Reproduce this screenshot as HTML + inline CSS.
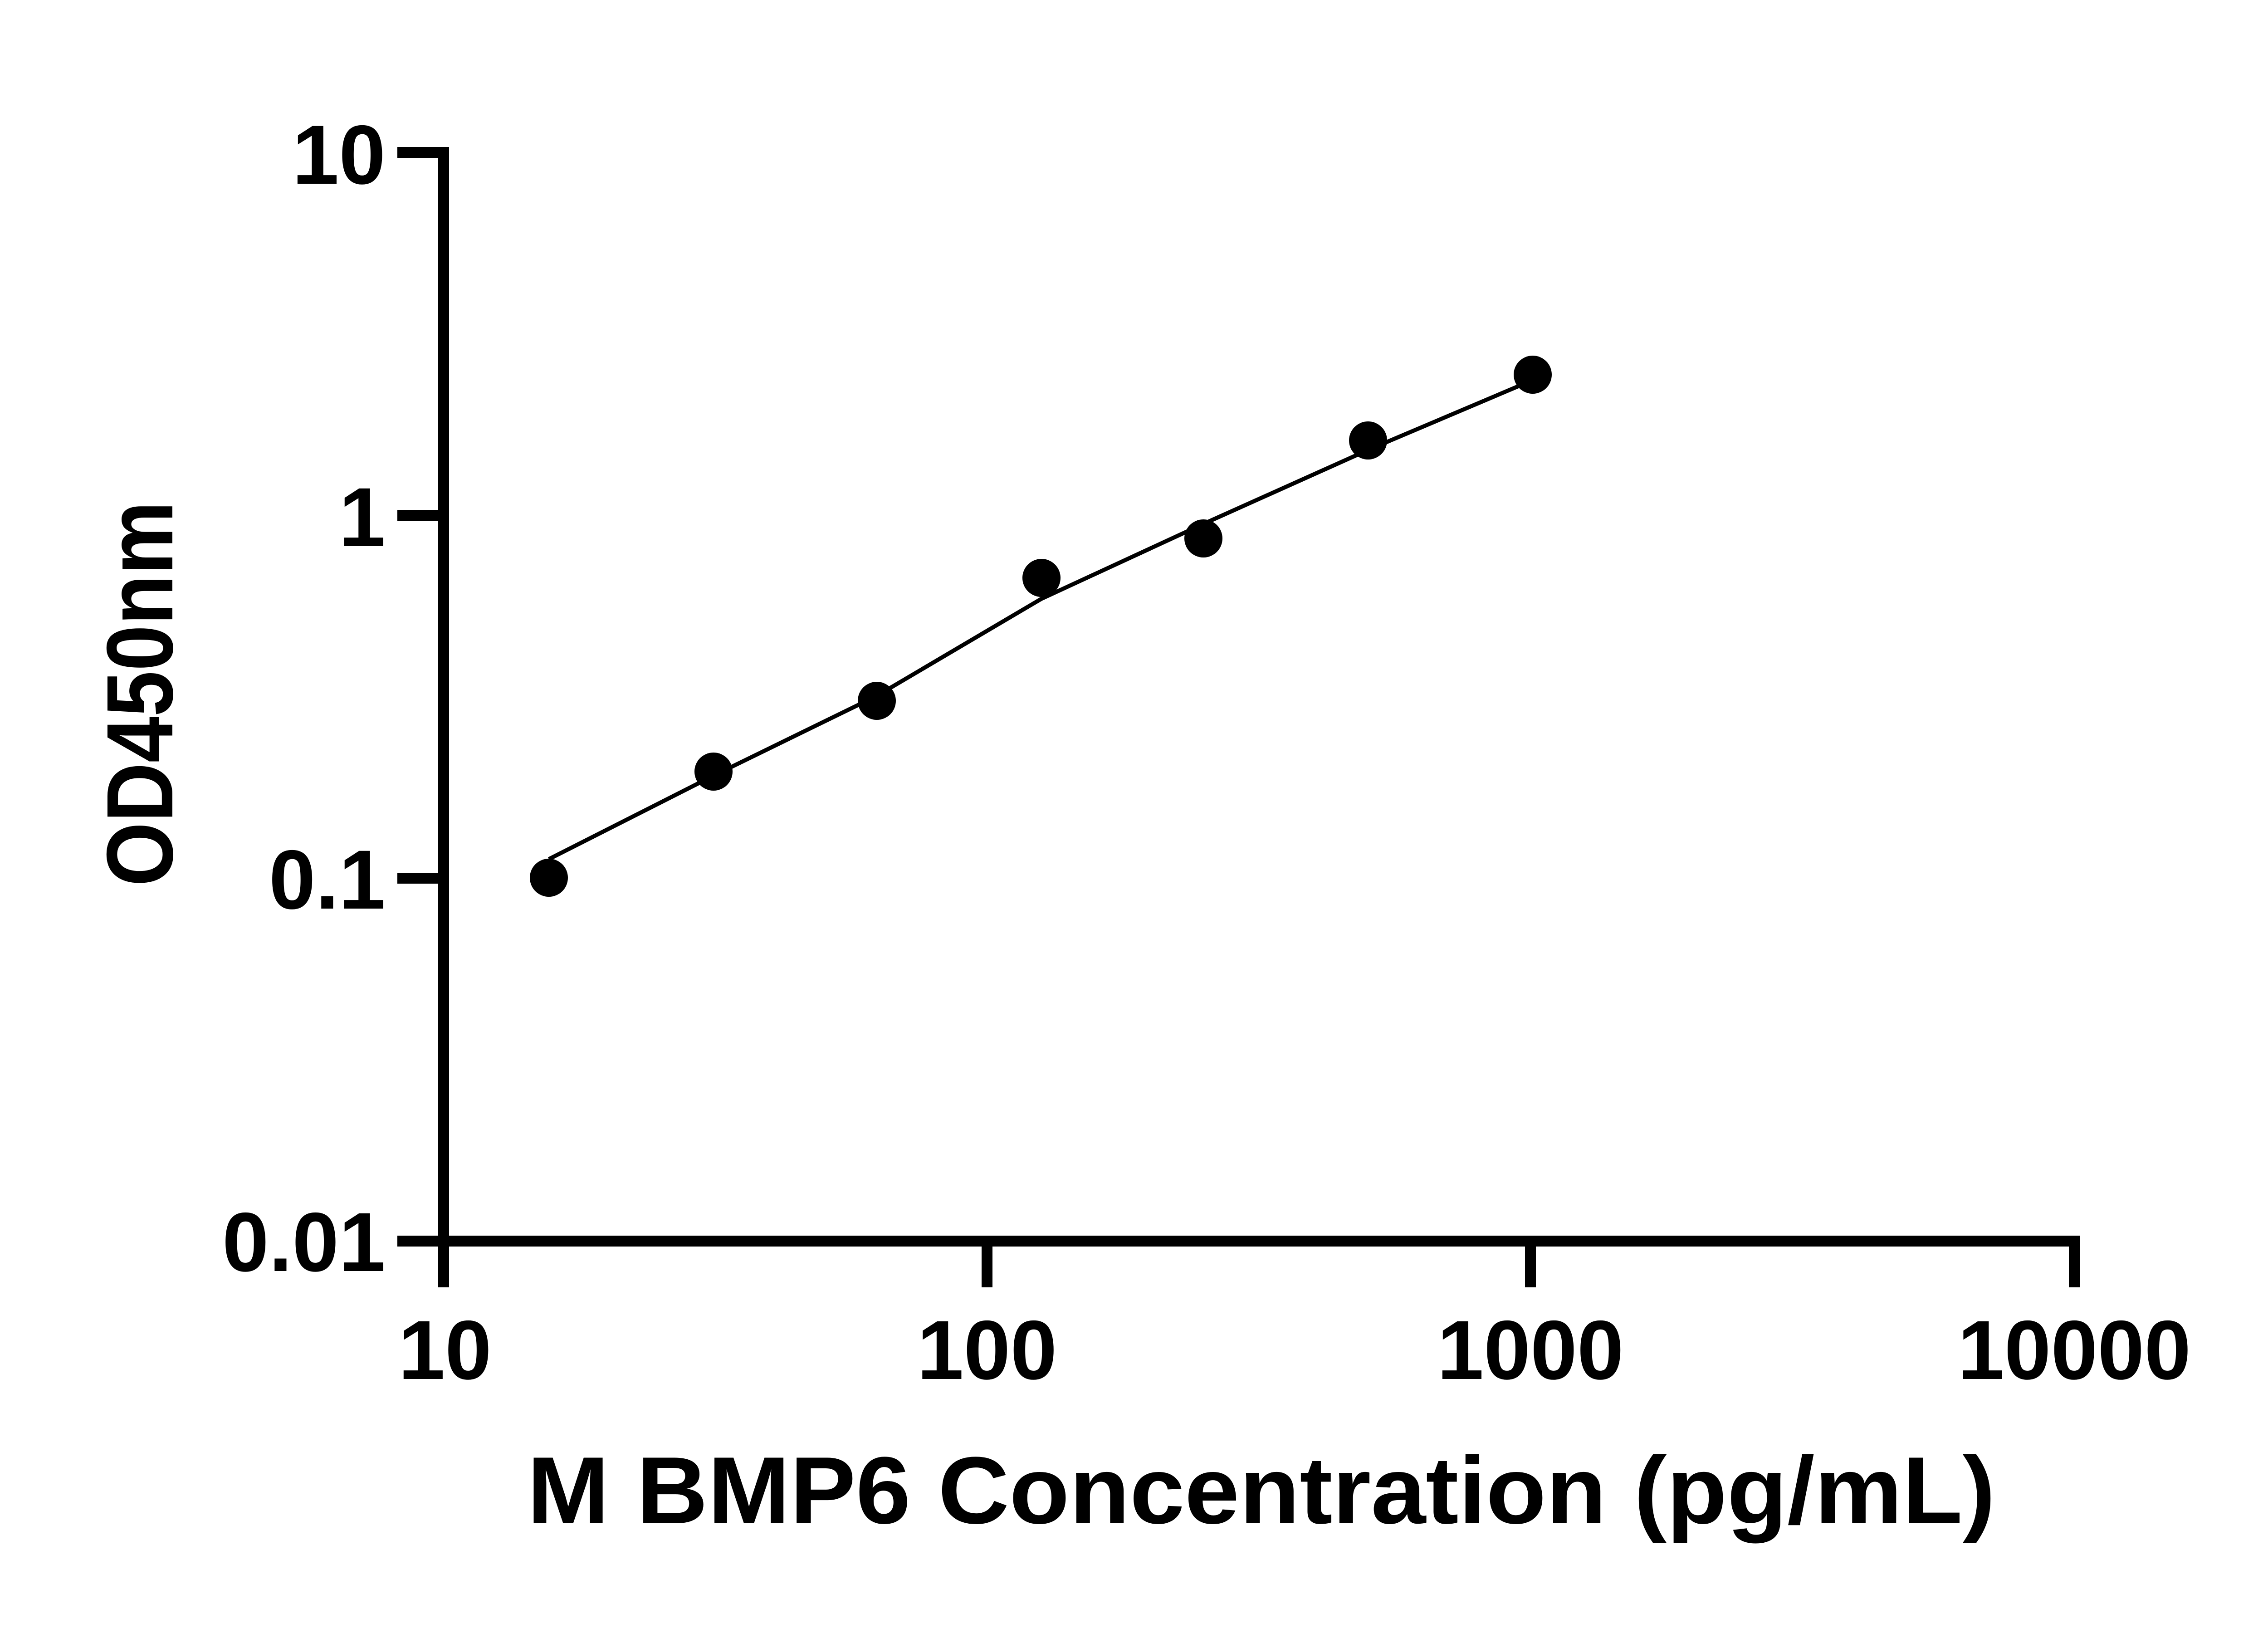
<!DOCTYPE html>
<html><head><style>html,body{margin:0;padding:0;background:#fff}svg{display:block}</style></head>
<body>
<svg width="5130" height="3600" viewBox="0 0 5130 3600" xmlns="http://www.w3.org/2000/svg">
<rect width="5130" height="3600" fill="#fff"/>
<g stroke="#000" stroke-width="24" fill="none" stroke-linecap="butt">
<path d="M978,324 V2736 H4585"/>
<path d="M876,336 H990 M876,1136 H978 M876,1936 H978 M876,2736 H978"/>
<path d="M978,2736 V2838 M2176,2736 V2838 M3374,2736 V2838 M4573,2724 V2838"/>
</g>
<path d="M1210,1894 L1573,1710 L1933,1534 L2296,1320 L2653,1155 L3016,992 L3379,838" stroke="#000" stroke-width="9" fill="none"/>
<g fill="#000">
<circle cx="1210" cy="1935" r="42"/><circle cx="1573" cy="1701" r="42"/><circle cx="1933" cy="1545" r="42"/>
<circle cx="2296" cy="1274" r="42"/><circle cx="2653" cy="1187" r="42"/><circle cx="3016" cy="971" r="42"/><circle cx="3379" cy="826" r="42"/>
</g>
<g font-family="Liberation Sans, sans-serif" font-weight="bold" font-size="185" fill="#000">
<text x="850" y="405" text-anchor="end">10</text>
<text x="850" y="1204" text-anchor="end">1</text>
<text x="850" y="2003" text-anchor="end">0.1</text>
<text x="850" y="2802" text-anchor="end">0.01</text>
<text x="981" y="3040" text-anchor="middle">10</text>
<text x="2176" y="3040" text-anchor="middle">100</text>
<text x="3374" y="3040" text-anchor="middle">1000</text>
<text x="4573" y="3040" text-anchor="middle">10000</text>
</g>
<text x="1162" y="3358" font-family="Liberation Sans, sans-serif" font-weight="bold" font-size="210" textLength="3237" lengthAdjust="spacingAndGlyphs">M BMP6 Concentration (pg/mL)</text>
<text transform="translate(380,1954) rotate(-90)" font-family="Liberation Sans, sans-serif" font-weight="bold" font-size="208" textLength="849" lengthAdjust="spacingAndGlyphs">OD450nm</text>
</svg>
</body></html>
